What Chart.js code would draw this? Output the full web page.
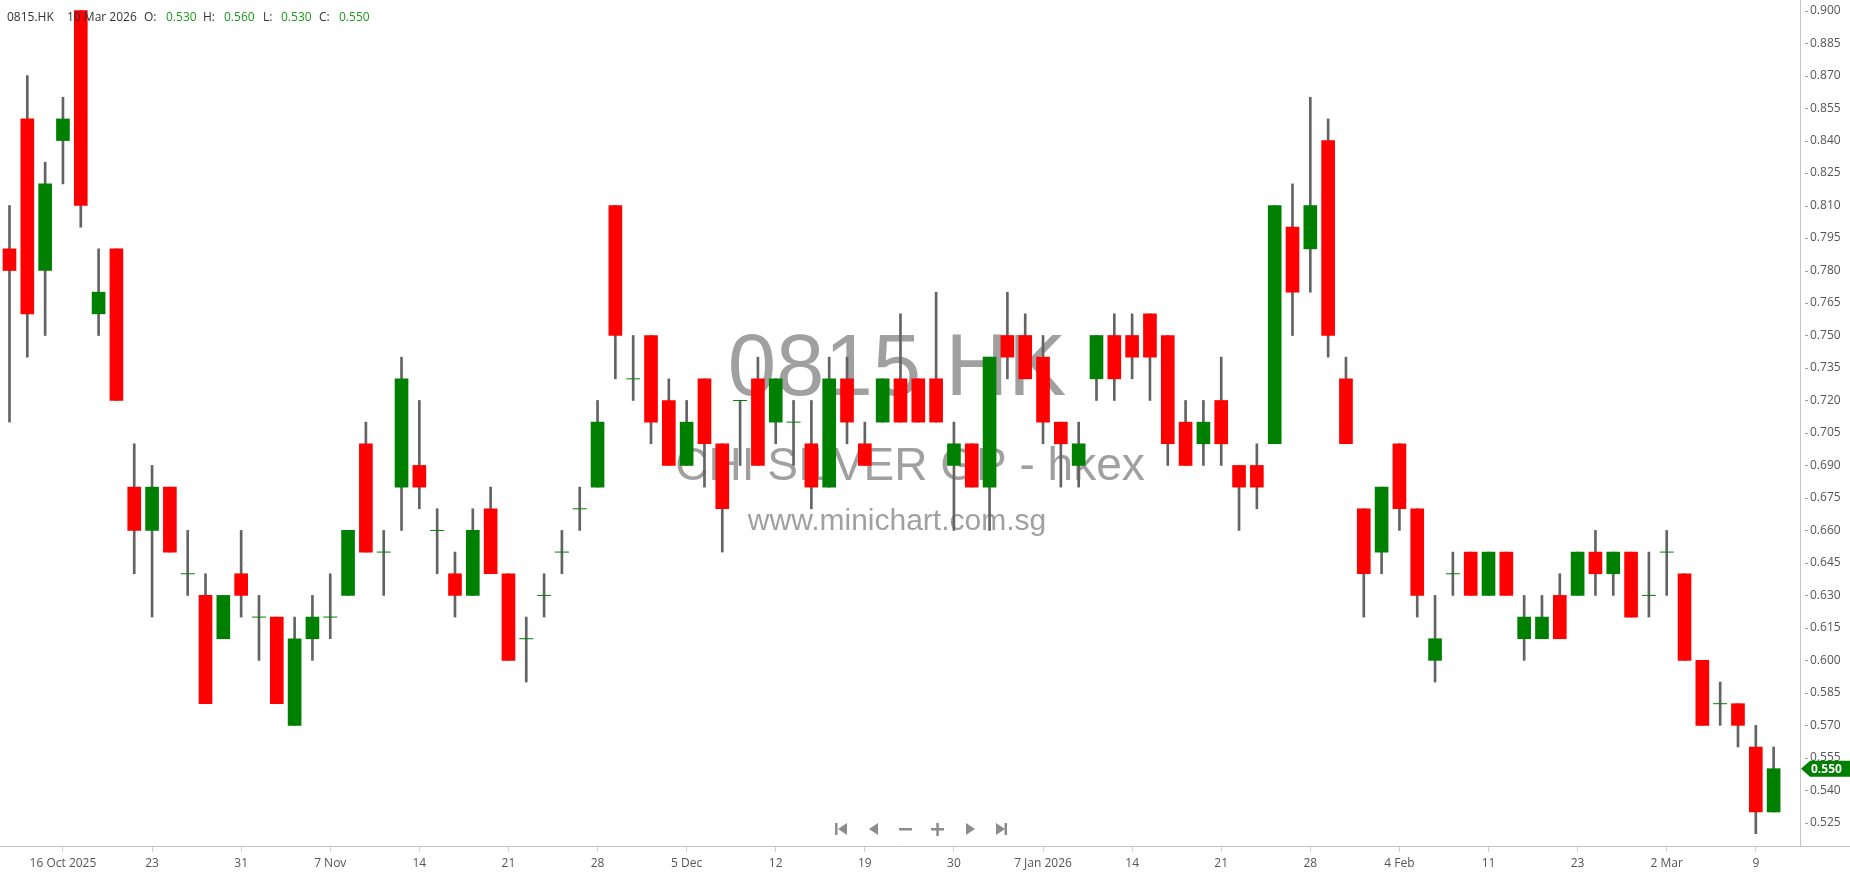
<!DOCTYPE html>
<html>
<head>
<meta charset="utf-8">
<title>0815.HK</title>
<script src="https://cdn.jsdelivr.net/npm/chart.js@4.4.1/dist/chart.umd.min.js"></script>
<style>
  html, body { margin: 0; padding: 0; background: #fff; }
  canvas { display: block; }
</style>
</head>
<body>
<canvas id="chart" width="1850" height="874"></canvas>
<script>
const ticker = "0815.HK";
const watermark = ["0815 HK", "CHI SILVER GP - hkex", "www.minichart.com.sg"];

const dates = [
  "2025-10-13","2025-10-14","2025-10-15","2025-10-16","2025-10-17","2025-10-20","2025-10-21","2025-10-22","2025-10-23","2025-10-24",
  "2025-10-27","2025-10-28","2025-10-30","2025-10-31","2025-11-03","2025-11-04","2025-11-05","2025-11-06","2025-11-07","2025-11-10",
  "2025-11-11","2025-11-12","2025-11-13","2025-11-14","2025-11-17","2025-11-18","2025-11-19","2025-11-20","2025-11-21","2025-11-24",
  "2025-11-25","2025-11-26","2025-11-27","2025-11-28","2025-12-01","2025-12-02","2025-12-03","2025-12-04","2025-12-05","2025-12-08",
  "2025-12-09","2025-12-10","2025-12-11","2025-12-12","2025-12-15","2025-12-16","2025-12-17","2025-12-18","2025-12-19","2025-12-22",
  "2025-12-23","2025-12-24","2025-12-29","2025-12-30","2025-12-31","2026-01-02","2026-01-05","2026-01-06","2026-01-07","2026-01-08",
  "2026-01-09","2026-01-12","2026-01-13","2026-01-14","2026-01-15","2026-01-16","2026-01-19","2026-01-20","2026-01-21","2026-01-22",
  "2026-01-23","2026-01-26","2026-01-27","2026-01-28","2026-01-29","2026-01-30","2026-02-02","2026-02-03","2026-02-04","2026-02-05",
  "2026-02-06","2026-02-09","2026-02-10","2026-02-11","2026-02-12","2026-02-13","2026-02-16","2026-02-20","2026-02-23","2026-02-24",
  "2026-02-25","2026-02-26","2026-02-27","2026-03-02","2026-03-03","2026-03-04","2026-03-05","2026-03-06","2026-03-09","2026-03-10"
];

const opens = [
  0.79,0.85,0.78,0.84,0.90,0.76,0.79,0.68,0.66,0.68,
  0.64,0.63,0.61,0.64,0.62,0.62,0.57,0.61,0.62,0.63,
  0.70,0.65,0.68,0.69,0.66,0.64,0.63,0.67,0.64,0.61,
  0.63,0.65,0.67,0.68,0.81,0.73,0.75,0.72,0.69,0.73,
  0.70,0.72,0.73,0.71,0.71,0.70,0.68,0.73,0.70,0.71,
  0.73,0.73,0.73,0.69,0.70,0.68,0.75,0.75,0.74,0.71,
  0.69,0.73,0.75,0.75,0.76,0.75,0.71,0.70,0.72,0.69,
  0.69,0.70,0.80,0.79,0.84,0.73,0.67,0.65,0.70,0.67,
  0.60,0.64,0.65,0.63,0.65,0.61,0.61,0.63,0.63,0.65,
  0.64,0.65,0.63,0.65,0.64,0.60,0.58,0.58,0.56,0.53
];
const highs = [
  0.81,0.87,0.83,0.86,0.90,0.79,0.79,0.70,0.69,0.68,
  0.66,0.64,0.63,0.66,0.63,0.62,0.62,0.63,0.64,0.66,
  0.71,0.66,0.74,0.72,0.67,0.65,0.67,0.68,0.64,0.62,
  0.64,0.66,0.68,0.72,0.81,0.75,0.75,0.73,0.72,0.73,
  0.70,0.72,0.74,0.73,0.72,0.72,0.74,0.74,0.71,0.73,
  0.76,0.73,0.77,0.71,0.70,0.74,0.77,0.76,0.75,0.71,
  0.71,0.75,0.76,0.76,0.76,0.75,0.72,0.72,0.74,0.69,
  0.70,0.81,0.82,0.86,0.85,0.74,0.67,0.68,0.70,0.67,
  0.63,0.65,0.65,0.65,0.65,0.63,0.63,0.64,0.65,0.66,
  0.65,0.65,0.65,0.66,0.64,0.60,0.59,0.58,0.57,0.56
];
const lows = [
  0.71,0.74,0.75,0.82,0.80,0.75,0.72,0.64,0.62,0.65,
  0.63,0.58,0.61,0.62,0.60,0.58,0.57,0.60,0.61,0.63,
  0.65,0.63,0.66,0.67,0.64,0.62,0.63,0.64,0.60,0.59,
  0.62,0.64,0.66,0.68,0.73,0.72,0.70,0.69,0.69,0.68,
  0.65,0.69,0.69,0.70,0.69,0.67,0.68,0.70,0.69,0.71,
  0.71,0.71,0.71,0.66,0.68,0.66,0.73,0.73,0.70,0.68,
  0.68,0.72,0.72,0.73,0.72,0.69,0.69,0.69,0.69,0.66,
  0.67,0.70,0.75,0.77,0.74,0.70,0.62,0.64,0.66,0.62,
  0.59,0.63,0.63,0.63,0.63,0.60,0.61,0.61,0.63,0.63,
  0.63,0.62,0.62,0.63,0.60,0.57,0.57,0.56,0.52,0.53
];
const closes = [
  0.78,0.76,0.82,0.85,0.81,0.77,0.72,0.66,0.68,0.65,
  0.64,0.58,0.63,0.63,0.62,0.58,0.61,0.62,0.62,0.66,
  0.65,0.65,0.73,0.68,0.66,0.63,0.66,0.64,0.60,0.61,
  0.63,0.65,0.67,0.71,0.75,0.73,0.71,0.69,0.71,0.70,
  0.67,0.72,0.69,0.73,0.71,0.68,0.73,0.71,0.69,0.73,
  0.71,0.71,0.71,0.70,0.68,0.74,0.74,0.73,0.71,0.70,
  0.70,0.75,0.73,0.74,0.74,0.70,0.69,0.71,0.70,0.68,
  0.68,0.81,0.77,0.81,0.75,0.70,0.64,0.68,0.67,0.63,
  0.61,0.64,0.63,0.65,0.63,0.62,0.62,0.61,0.65,0.64,
  0.65,0.62,0.63,0.65,0.60,0.57,0.58,0.57,0.53,0.55
];

// x axis labels (every 5th session)
const tickDates = [
  "2025-10-16","2025-10-23","2025-10-31","2025-11-07","2025-11-14","2025-11-21","2025-11-28",
  "2025-12-05","2025-12-12","2025-12-19","2025-12-30","2026-01-07","2026-01-14","2026-01-21",
  "2026-01-28","2026-02-04","2026-02-11","2026-02-23","2026-03-02","2026-03-09"
];
const tickLabels = [
  "16 Oct 2025","23","31","7 Nov","14","21","28","5 Dec","12","19",
  "30","7 Jan 2026","14","21","28","4 Feb","11","23","2 Mar","9"
];
const priceTicks = [
  0.525,0.540,0.555,0.570,0.585,0.600,0.615,0.630,0.645,0.660,0.675,0.690,0.705,
  0.720,0.735,0.750,0.765,0.780,0.795,0.810,0.825,0.840,0.855,0.870,0.885,0.900
];

const UP = "#008000";
const DOWN = "#ff0000";
const WICK = "#636363";
const FONT = "'Open Sans', 'DejaVu Sans', sans-serif";

const tickIdx = tickDates.map(d => dates.indexOf(d));

const bodies = [];
const dojis = [];
const wicks = [];
dates.forEach((d, i) => {
  wicks.push({ x: i, y: [lows[i], highs[i]] });
  if (opens[i] === closes[i]) dojis.push({ x: i, y: closes[i] });
  else bodies.push({ x: i, y: [opens[i], closes[i]] });
});

const MONTHS = ["Jan","Feb","Mar","Apr","May","Jun","Jul","Aug","Sep","Oct","Nov","Dec"];
function longDate(s) {
  const [y, m, d] = s.split("-").map(Number);
  return d + " " + MONTHS[m - 1] + " " + y;
}

// stop Chart.js from reserving room for half-labels at the edges
function noPad(s) {
  s.paddingLeft = 0; s.paddingRight = 0; s.paddingTop = 0; s.paddingBottom = 0;
}

const decor = {
  id: "decor",
  beforeDatasetsDraw(chart) {
    const ctx = chart.ctx;
    ctx.save();
    ctx.fillStyle = "#a0a0a0";
    ctx.textAlign = "center";
    ctx.textBaseline = "alphabetic";
    ctx.font = "87px 'Liberation Sans', Arial, sans-serif";
    ctx.fillText(watermark[0], 897, 395);
    ctx.font = "46px 'Liberation Sans', Arial, sans-serif";
    ctx.fillText(watermark[1], 910, 480);
    ctx.font = "30px 'Liberation Sans', Arial, sans-serif";
    ctx.fillText(watermark[2], 897, 530);
    ctx.restore();
  },
  afterDatasetsDraw(chart) {
    // OHLC header for the last session
    const ctx = chart.ctx;
    const n = dates.length - 1;
    ctx.save();
    ctx.font = "12px " + FONT;
    ctx.textBaseline = "middle";
    ctx.textAlign = "left";
    const y = 18;
    const dark = "#333";
    const green = "#1a9a1a";
    const parts = [
      [ticker, 7, dark], [longDate(dates[n]), 67, dark],
      ["O:", 144, dark], [opens[n].toFixed(3), 166, green],
      ["H:", 203, dark], [highs[n].toFixed(3), 224, green],
      ["L:", 263, dark], [lows[n].toFixed(3), 281, green],
      ["C:", 319, dark], [closes[n].toFixed(3), 339, green]
    ];
    parts.forEach(([t, x, c]) => { ctx.fillStyle = c; ctx.fillText(t, x, y); });
    ctx.restore();
  },
  afterDraw(chart) {
    const ctx = chart.ctx;
    const area = chart.chartArea;
    const ys = chart.scales.y;
    ctx.save();

    // x axis line runs under the price labels too
    ctx.strokeStyle = "#c4c4c4";
    ctx.lineWidth = 1;
    ctx.beginPath();
    ctx.moveTo(area.right, area.bottom + 0.5);
    ctx.lineTo(chart.width, area.bottom + 0.5);
    ctx.stroke();

    // small dashes before price labels
    ctx.strokeStyle = "#9a9a9a";
    priceTicks.forEach(v => {
      const py = Math.round(ys.getPixelForValue(v)) + 0.5;
      ctx.beginPath();
      ctx.moveTo(area.right + 5, py);
      ctx.lineTo(area.right + 8, py);
      ctx.stroke();
    });

    // last price tag
    const last = closes[closes.length - 1];
    const ty = ys.getPixelForValue(last);
    const tx = area.right + 1;
    ctx.fillStyle = last >= opens[opens.length - 1] ? UP : DOWN;
    ctx.beginPath();
    ctx.moveTo(tx, ty);
    ctx.lineTo(tx + 9, ty - 8);
    ctx.lineTo(chart.width, ty - 8);
    ctx.lineTo(chart.width, ty + 8);
    ctx.lineTo(tx + 9, ty + 8);
    ctx.closePath();
    ctx.fill();
    ctx.fillStyle = "#fff";
    ctx.font = "bold 12px " + FONT;
    ctx.textBaseline = "middle";
    ctx.textAlign = "left";
    ctx.fillText(last.toFixed(3), tx + 10, ty + 1);

    // navigation buttons
    ctx.fillStyle = "#8c8c8c";
    const ny = 829;
    const tri = (x0, xp) => {
      ctx.beginPath();
      ctx.moveTo(x0, ny - 6); ctx.lineTo(x0, ny + 6); ctx.lineTo(xp, ny); ctx.closePath(); ctx.fill();
    };
    ctx.fillRect(835, ny - 6, 2.5, 12); tri(847, 838);
    tri(878, 869);
    ctx.fillRect(899, ny - 1, 13, 2.5);
    ctx.fillRect(931, ny - 1, 13, 2.5); ctx.fillRect(936.3, ny - 6, 2.5, 13);
    tri(966, 975);
    tri(996, 1005); ctx.fillRect(1004.5, ny - 6, 2.5, 12);

    ctx.restore();
  }
};

new Chart(document.getElementById("chart"), {
  type: "bar",
  data: {
    datasets: [
      {
        label: "body",
        data: bodies,
        backgroundColor: c => (c.raw && c.raw.y[1] > c.raw.y[0] ? UP : DOWN),
        barThickness: 13,
        grouped: false,
        borderWidth: 0,
        order: 0
      },
      {
        label: "doji",
        type: "line",
        data: dojis,
        showLine: false,
        pointStyle: "line",
        pointRadius: 7,
        pointBorderWidth: 1,
        pointBorderColor: UP,
        borderColor: UP,
        order: 1
      },
      {
        label: "wick",
        data: wicks,
        backgroundColor: WICK,
        barThickness: 2,
        grouped: false,
        borderWidth: 0,
        order: 2
      }
    ]
  },
  options: {
    responsive: false,
    animation: false,
    devicePixelRatio: 1,
    events: [],
    layout: { padding: 0, autoPadding: false },
    plugins: { legend: { display: false }, tooltip: { enabled: false } },
    scales: {
      x: {
        type: "linear",
        min: -0.533,
        max: 100.48,
        offset: false,
        grid: { display: true, offset: false, drawOnChartArea: false, drawTicks: true, tickLength: 6, tickColor: "#d0d0d0" },
        border: { display: true, color: "#c4c4c4" },
        ticks: {
          autoSkip: false,
          maxRotation: 0,
          padding: 4,
          color: "#555",
          font: { family: FONT, size: 12 },
          callback: v => {
            const k = tickIdx.indexOf(v);
            return k >= 0 ? tickLabels[k] : "";
          }
        },
        afterBuildTicks: s => { s.ticks = tickIdx.map(v => ({ value: v })); },
        afterFit: s => { s.height = 28; noPad(s); }
      },
      y: {
        position: "right",
        min: 0.5143,
        max: 0.9049,
        beginAtZero: false,
        grid: { display: true, drawOnChartArea: false, drawTicks: false },
        border: { display: true, color: "#c4c4c4" },
        ticks: {
          autoSkip: false,
          padding: 10,
          color: "#555",
          font: { family: FONT, size: 12 },
          callback: v => v.toFixed(3)
        },
        afterBuildTicks: s => { s.ticks = priceTicks.map(v => ({ value: v })); },
        afterFit: s => { s.width = 50; noPad(s); }
      }
    }
  },
  plugins: [decor]
});
</script>
</body>
</html>
